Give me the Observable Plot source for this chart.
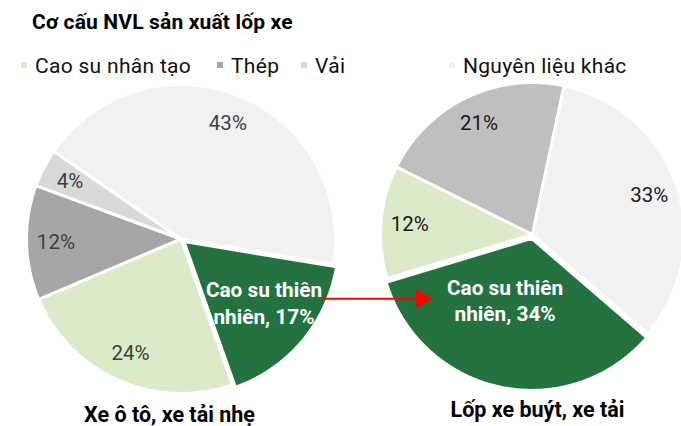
<!DOCTYPE html>
<html><head><meta charset="utf-8">
<script src="https://cdn.jsdelivr.net/npm/d3@7"></script>
<script src="https://cdn.jsdelivr.net/npm/@observablehq/plot@0.6"></script>
<style>
html,body{margin:0;padding:0;background:#fff;}
body{width:681px;height:426px;position:relative;overflow:hidden;font-family:Roboto,"Noto Sans",sans-serif;}
#title{position:absolute;left:32px;top:12px;font-size:21px;font-weight:700;line-height:20px;color:#000;white-space:nowrap;letter-spacing:0.15px;}
.lg{position:absolute;top:55.5px;font-size:21px;line-height:20px;color:#111;white-space:nowrap;letter-spacing:0.3px;}
.sw{position:absolute;width:6px;height:6px;top:62px;}
#chart{position:absolute;left:0;top:80px;}
</style></head><body>
<div id="title">Cơ cấu NVL sản xuất lốp xe</div>
<div id="legend"></div>
<div id="chart"></div>
<script>
// ---- data ----
const carCategories = ["Cao su thiên nhiên", "Cao su nhân tạo", "Thép", "Vải", "Nguyên liệu khác"];
const carValues = [17, 24, 12, 4, 43];
const busCategories = ["Cao su thiên nhiên", "Cao su nhân tạo", "Thép", "Nguyên liệu khác"];
const busValues = [34, 12, 21, 33];
const legendLabels = ["Cao su nhân tạo", "Thép", "Vải", "Nguyên liệu khác"];
const pieTitles = ["Xe ô tô, xe tải nhẹ", "Lốp xe buýt, xe tải"];
const highlight = "Cao su thiên nhiên";

// ---- styles / layout ----
const palette = {"Cao su thiên nhiên": "#23723f", "Cao su nhân tạo": "#dbeac8", "Thép": "#a6a6a6", "Vải": "#d9d9d9", "Nguyên liệu khác": "#f1f1f1"};
const busPalette = {...palette, "Thép": "#bfbfbf"};
const W = 681, H = 346, TOP = 80;
const legendX = [35, 231, 315, 463];
const pies = [
  {cats: carCategories, values: carValues, palette, cx: 180.5, cy: 238.5 - TOP, r: 154.5, start: 99.4,
   labelColor: "#404040", title: pieTitles[0], titleX: 169, titleY: 334.7, hlNudge: [3, -4], hlFactor: 0.65},
  {cats: busCategories, values: busValues, palette: busPalette, cx: 532, cy: 234 - TOP, r: 152, start: 130.8,
   labelColor: "#1a1a1a", title: pieTitles[1], titleX: 537, titleY: 330, hlNudge: [-13, -3], hlFactor: 0.43}
];
const explode = 4, labelFactor = 0.81;
const arrow = {x1: 322, x2: 416, y: 218.3, tip: 421};

// legend (HTML, above the SVG)
const lg = document.getElementById("legend");
legendLabels.forEach((t, i) => {
  const sw = document.createElement("div");
  sw.className = "sw"; sw.style.left = (legendX[i] - 14) + "px"; sw.style.background = palette[t];
  const tx = document.createElement("div");
  tx.className = "lg"; tx.style.left = legendX[i] + "px"; tx.textContent = t;
  lg.appendChild(sw); lg.appendChild(tx);
});

// build slices via d3.pie
const slicePts = [], labels = [], titles = [];
pies.forEach((p, pi) => {
  const arcs = d3.pie().sort(null).startAngle(p.start * Math.PI / 180).endAngle(p.start * Math.PI / 180 + 2 * Math.PI)(p.values);
  arcs.forEach((a, i) => {
    const cat = p.cats[i];
    const mid = (a.startAngle + a.endAngle) / 2;
    const e = cat === highlight ? explode : 0;
    const ox = p.cx + e * Math.sin(mid), oy = p.cy - e * Math.cos(mid);
    const key = pi + "-" + i, color = p.palette[cat];
    slicePts.push({key, color, x: ox, y: oy});
    const n = Math.max(2, Math.ceil((a.endAngle - a.startAngle) * 180 / Math.PI));
    for (let k = 0; k <= n; k++) {
      const ang = a.startAngle + (a.endAngle - a.startAngle) * k / n;
      slicePts.push({key, color, x: ox + p.r * Math.sin(ang), y: oy - p.r * Math.cos(ang)});
    }
    const isH = cat === highlight;
    const f = isH ? p.hlFactor : labelFactor;
    labels.push({
      x: ox + f * p.r * Math.sin(mid) + (isH ? p.hlNudge[0] : 0),
      y: oy - f * p.r * Math.cos(mid) + (isH ? p.hlNudge[1] : 0),
      text: isH ? "Cao su thiên\nnhiên, " + p.values[i] + "%" : p.values[i] + "%",
      color: isH ? "#ffffff" : p.labelColor,
      weight: isH ? "bold" : "normal"
    });
  });
  titles.push({x: p.titleX, y: p.titleY, text: p.title});
});

const chart = Plot.plot({
  width: W, height: H, margin: 0,
  x: {domain: [0, W], range: [0, W], axis: null},
  y: {domain: [0, H], range: [0, H], axis: null},
  color: {type: "identity"},
  style: {fontFamily: "Roboto, sans-serif", background: "transparent", overflow: "visible"},
  marks: [
    Plot.line(slicePts, {x: "x", y: "y", z: "key", fill: "color", stroke: "#ffffff", strokeWidth: 3, strokeLinejoin: "round", curve: "linear-closed"}),
    Plot.text(labels.filter(d => d.weight === "normal"), {x: "x", y: "y", text: "text", fill: "color", fontSize: 20.5}),
    Plot.text(labels.filter(d => d.weight === "bold"), {x: "x", y: "y", text: "text", fill: "color", fontSize: 20.8, fontWeight: "bold", lineHeight: 1.27}),
    Plot.text(titles, {x: "x", y: "y", text: "text", fill: "#000", fontSize: 21.5, fontWeight: "bold", letterSpacing: 0.3}),
    Plot.link([arrow], {x1: "x1", x2: "x2", y1: "y", y2: "y", stroke: "#ff0000", strokeWidth: 2}),
    Plot.dot([arrow], {x: "tip", y: "y", symbol: "triangle", r: 7, rotate: 90, fill: "#ff0000", stroke: "none"})
  ]
});
document.getElementById("chart").appendChild(chart);
</script>
</body></html>
